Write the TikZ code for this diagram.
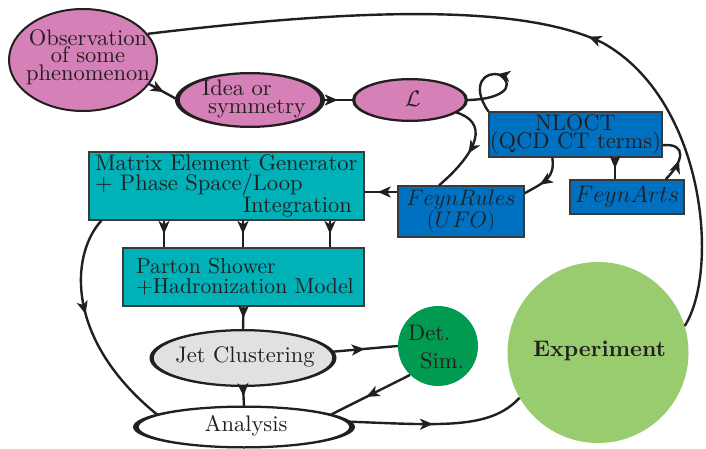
\RequirePackage{fix-cm}
\documentclass[tikz,border=0pt]{standalone}
\usepackage{fontspec}
\setmainfont{lmroman10}[Extension=.otf, UprightFont=*-regular, BoldFont=*-bold, ItalicFont=*-italic, BoldItalicFont=*-bolditalic]
\usetikzlibrary{shapes.geometric,arrows.meta,decorations.markings}
\definecolor{pinkc}{HTML}{D580B6}
\definecolor{bluec}{HTML}{0070C0}
\definecolor{tealc}{HTML}{00B1B8}
\definecolor{detc}{HTML}{009A50}
\definecolor{expc}{HTML}{99CC6F}
\definecolor{jetc}{HTML}{E1E1E1}
\definecolor{linec}{HTML}{231F20}
\definecolor{boxline}{HTML}{3A3A3A}
\begin{document}
\begin{tikzpicture}[x=1pt,y=-1pt,
  every node/.style={text=linec, font=\fontsize{22.5}{20}\selectfont},
  ell/.style={ellipse, draw=linec, inner sep=0pt},
  txt/.style={inner sep=0pt},
  box/.style={rectangle, draw=boxline, line width=1.3pt, inner sep=0pt},
  conn/.style={draw=linec, line width=2.4pt},
  marr/.style={postaction={decorate}, decoration={markings, mark=at position #1 with {\arrow{Stealth[length=13pt,width=11pt,inset=3.5pt]}}}},
  marr/.default=0.5]
\useasboundingbox (0,0) rectangle (706,449);

% nodes
\node[ell, fill=pinkc, line width=2pt, minimum width=148pt, minimum height=102pt] (obs) at (83,60) {};
\node[txt, align=center, font=\fontsize{22.5}{17.5}\selectfont] (obstext) at (88,57) {Observation\\of some\\phenomenon};

\fill[linec] (250,100) ellipse [x radius=75pt, y radius=28pt];
\node[ell, fill=pinkc, line width=1.5pt, minimum width=142pt, minimum height=53pt] (idea) at (250,100) {};
\node[txt, align=left, font=\fontsize{22.5}{18}\selectfont] (ideatext) at (254,99) {Idea or\\\hspace*{6pt}symmetry};

\fill[linec] (410,100) ellipse [x radius=58pt, y radius=22pt];
\node[ell, fill=pinkc, line width=1.5pt, minimum width=111pt, minimum height=41pt] (lag) at (410,100) {};
\node[txt] (lagtext) at (413,99) {$\mathcal{L}$};

\node[box, fill=bluec, minimum width=173pt, minimum height=45pt, align=center, font=\fontsize{22.5}{15}\selectfont] (nloct) at (575.5,134.5) {NLOCT\\(QCD CT terms)};

\node[box, fill=bluec, minimum width=126pt, minimum height=51pt, align=center, font=\fontsize{22.5}{20}\selectfont] (fr) at (461,211.5) {$FeynRules$\\$(UFO)$};

\node[box, fill=bluec, minimum width=114pt, minimum height=34pt, font=\fontsize{24}{20}\selectfont] (fa) at (627,197) {$FeynArts$};

\node[box, fill=tealc, minimum height=68pt, text width=263pt, inner xsep=6pt, align=left, font=\fontsize{22.5}{20.5}\selectfont] (me) at (226.5,186) {\mbox{Matrix Element Generator}\\\mbox{+ Phase Space/Loop}\\\mbox{\hspace*{148pt}Integration}};

\node[box, fill=tealc, minimum height=58pt, text width=215pt, inner xsep=13pt, align=left, font=\fontsize{21.7}{20}\selectfont] (ps) at (243.5,277) {\mbox{Parton Shower}\\\mbox{+Hadronization Model}};

\fill[linec] (243,358) ellipse [x radius=93.5pt, y radius=29pt];
\node[ell, fill=jetc, line width=1.5pt, minimum width=180pt, minimum height=55pt] (jet) at (243,358) {};
\node[txt] (jettext) at (245,357) {Jet Clustering};

\fill[linec] (244,427) ellipse [x radius=111pt, y radius=21.5pt];
\node[ell, fill=white, line width=1.5pt, minimum width=212pt, minimum height=40pt] (ana) at (244,427) {};
\node[txt] (anatext) at (246,426) {Analysis};

\node[circle, fill=detc, minimum size=80pt, inner sep=0pt] (det) at (438,346) {};
\node[txt, align=left, font=\fontsize{22.5}{28}\selectfont] (dettext) at (436,347) {Det.\\\hspace*{12pt}Sim.};

\node[circle, fill=expc, minimum size=181pt, inner sep=0pt] (exp) at (598,352.5) {};
\node[txt, font=\fontsize{22.5}{20}\selectfont\bfseries] (exptext) at (599.5,351) {Experiment};

% helper coordinates
\coordinate (fatop) at ([xshift=-12pt]fa.north);
\coordinate (meport) at ([yshift=-6pt]me.east);
\coordinate (p1) at ([xshift=-79.5pt]ps.north);
\coordinate (p2) at ([xshift=-0.5pt]ps.north);
\coordinate (p3) at ([xshift=86.5pt]ps.north);

% connectors
\draw[conn, marr=0.5] (obs.-20) -- (idea.west);
\draw[conn, marr=0.5] (idea) -- (lag);
\draw[conn, marr=0.55] (lag.east) .. controls (498,100) and (518,88) .. (500,75) .. controls (485,70) and (470,85) .. (nloct.north west);
\draw[conn, marr=0.55] (lag.-15) .. controls (488,122) and (480,150) .. (fr.130);
\draw[conn, marr=0.65] (nloct.-135) .. controls (555,178) and (545,182) .. (fr.16);
\draw[conn, marr=0.5] (nloct.south -| fatop) -- (fatop);
\draw[conn, marr=0.45] ([xshift=-19pt]fa.north east) .. controls (683,162) and (688,143) .. (nloct.-7);
\draw[conn, marr=0.6] (fr.west |- meport) -- (meport);
\draw[conn, marr] (p1 |- me.south) -- (p1);
\draw[conn, marr] (p2 |- me.south) -- (p2);
\draw[conn, marr] (p3 |- me.south) -- (p3);
\draw[conn, marr=0.44] ([xshift=13pt]me.south west) .. controls (70,255) and (65,340) .. (ana.172);
\draw[conn, marr] (ps.south) -- (jet.north);
\draw[conn, marr] (jet.south) -- (ana.north);
\draw[conn, marr=0.5] (jet.4) -- (det.west);
\draw[conn, marr=0.55] (det.226) -- (ana.8);
\draw[conn, marr=0.48] (ana.3) .. controls (440,425) and (490,430) .. (exp.210);
\draw[conn, marr=0.43] (exp.17) .. controls (720,270) and (705,100) .. (603,43) .. controls (515,0) and (330,12) .. (obs.22);
\end{tikzpicture}
\end{document}
